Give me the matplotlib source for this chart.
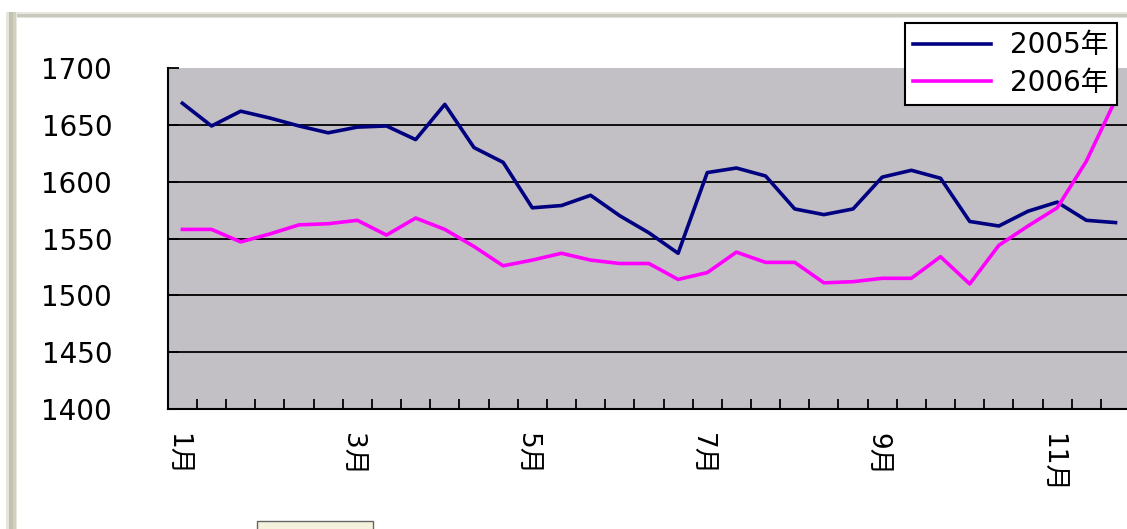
import numpy as np
import matplotlib.pyplot as plt
import matplotlib.transforms as mtransforms
from matplotlib.patches import Rectangle
from matplotlib.ticker import FixedLocator

plt.rcParams['font.family'] = ['DejaVu Sans', 'Noto Sans CJK SC']

# ten-day periods, three per month
n_periods = 36
month_pos = [0, 6, 12, 18, 24, 30]
month_labels = ["1月", "3月", "5月", "7月", "9月", "11月"]

price_2005 = [1669, 1649, 1662, 1656, 1649, 1643, 1648, 1649, 1637, 1668,
              1630, 1617, 1577, 1579, 1588, 1570, 1555, 1537, 1608, 1612,
              1605, 1576, 1571, 1576, 1604, 1610, 1603, 1565, 1561, 1574,
              1582, 1566, 1564]
price_2006 = [1558, 1558, 1547, 1554, 1562, 1563, 1566, 1553, 1568, 1558,
              1543, 1526, 1531, 1537, 1531, 1528, 1528, 1514, 1520, 1538,
              1529, 1529, 1511, 1512, 1515, 1515, 1534, 1510, 1544, 1561,
              1577, 1618, 1672]

W, H = 1127, 529
fig = plt.figure(figsize=(W / 100, H / 100), dpi=100)
fig.patch.set_facecolor('white')

# window edge shading, drawn in pixel coordinates
bg = fig.add_axes([0, 0, 1, 1], zorder=0)
bg.set_xlim(0, W)
bg.set_ylim(H, 0)
bg.axis('off')
for x0, x1, c in [(6, 9, '#e4e4da'), (9, 13, '#c2c2ae'), (13, 16, '#d0d0c0'), (16, 17, '#e8e8e0')]:
    bg.add_patch(Rectangle((x0, 12), x1 - x0, H - 12, color=c, lw=0))
for y0, y1, c in [(12, 14, '#e6e6de'), (14, 17, '#c8c8bc'), (17, 18, '#e2e2da')]:
    bg.add_patch(Rectangle((x1, y0), W - x1, y1 - y0, color=c, lw=0))
bg.add_patch(Rectangle((257, 521), 116, 10, facecolor='#f4f1dc', edgecolor='#666666', lw=1))

cat_w = 29.16
ax = fig.add_axes([167.8 / W, 120 / H, n_periods * cat_w / W, 341 / H], zorder=1)
ax.set_facecolor('#c2c0c5')

x = np.arange(len(price_2005))
ax.plot(x, price_2005, color='#000080', lw=2.6, label='2005年')
ax.plot(x, price_2006, color='#ff00ff', lw=2.6, label='2006年')

ax.set_xlim(-0.5, n_periods - 0.5)
ax.set_ylim(1400, 1700)
ax.set_yticks(np.arange(1400, 1701, 50))
ax.yaxis.grid(True, color='black', lw=1.3)
ax.get_ygridlines()[-1].set_visible(False)
ax.set_axisbelow(True)

for s in ['top', 'right']:
    ax.spines[s].set_visible(False)
for s in ['left', 'bottom']:
    ax.spines[s].set_color('black')
    ax.spines[s].set_linewidth(1.5)

ax.tick_params(axis='y', direction='in', length=8, width=1.3, pad=40, labelsize=20)
ax.set_xticks(month_pos, month_labels, rotation=-90, fontsize=19)
ax.tick_params(axis='x', which='major', length=0, pad=17)
ax.xaxis.set_minor_locator(FixedLocator(np.arange(0.5, n_periods - 1, 1)))
ax.tick_params(axis='x', which='minor', direction='in', length=7, width=1.3)

# nudge month labels a little to the left
shift = mtransforms.ScaledTranslation(-0.06, 0, fig.dpi_scale_trans)
for lbl in ax.get_xticklabels():
    lbl.set_transform(lbl.get_transform() + shift)

leg = ax.legend(loc='upper right', bbox_to_anchor=(1117 / W, 1 - 23 / H),
                bbox_transform=fig.transFigure, fontsize=20, fancybox=False,
                edgecolor='black', framealpha=1, borderaxespad=0,
                handlelength=2.8, handletextpad=0.7, borderpad=0.3,
                labelspacing=0.35)
leg.get_frame().set_linewidth(1.5)

fig.savefig('out.png', dpi=100)
